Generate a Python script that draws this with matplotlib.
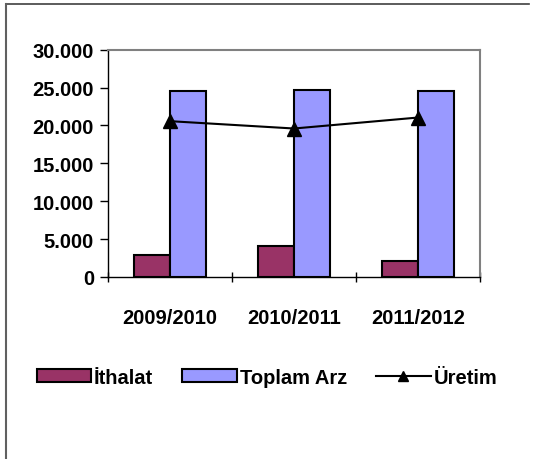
import numpy as np
import matplotlib
matplotlib.use("Agg")
import matplotlib.pyplot as plt
from matplotlib.lines import Line2D

plt.rcParams['font.family'] = ['Liberation Sans', 'DejaVu Sans']
plt.rcParams['font.weight'] = 'bold'

years = ["2009/2010", "2010/2011", "2011/2012"]
ithalat = [2900, 4120, 2060]
toplam_arz = [24560, 24650, 24600]
uretim = [20570, 19600, 21050]
yticks = [0, 5000, 10000, 15000, 20000, 25000, 30000]
ytick_labels = ["0", "5.000", "10.000", "15.000", "20.000", "25.000", "30.000"]

fs = 14.5

fig = plt.figure(figsize=(5.36, 4.6), dpi=100)
ax = fig.add_axes([0.2015, 0.3957, 0.694, 0.494])

x = np.arange(len(years))
w = 0.29
b1 = ax.bar(x - w/2, ithalat, w, color="#993366", edgecolor="black", linewidth=1.5, label="İthalat")
b2 = ax.bar(x + w/2, toplam_arz, w, color="#9999FF", edgecolor="black", linewidth=1.5, label="Toplam Arz")
l1, = ax.plot(x, uretim, color="black", lw=1.5, marker="^", markersize=10, label="Üretim")

ax.set_xlim(-0.5, 2.5)
ax.set_ylim(0, 30000)
ax.set_yticks(yticks)
ax.set_yticklabels(ytick_labels, fontsize=fs, fontweight="bold")
ax.set_xticks(x)
ax.set_xticklabels(years, fontsize=fs, fontweight="bold")
ax.tick_params(axis="x", length=0, pad=22)
ax.set_xticks([-0.5, 0.5, 1.5, 2.5], minor=True)
ax.tick_params(axis="x", which="minor", length=7, width=1, direction="inout")
ax.tick_params(axis="y", length=6, width=1, pad=4)

for s in ["top", "right"]:
    ax.spines[s].set_color("#808080")
    ax.spines[s].set_linewidth(1.5)
for s in ["left", "bottom"]:
    ax.spines[s].set_color("black")
    ax.spines[s].set_linewidth(1)

fig.legend([b1, b2, l1], ["İthalat", "Toplam Arz", "Üretim"],
           loc="center", bbox_to_anchor=(0.498, 0.178), ncol=3, frameon=False,
           prop={"size": fs, "weight": "bold"}, handlelength=2.7, handletextpad=0.15,
           columnspacing=1.45, handleheight=0.6, markerscale=0.75)

# outer frame (top and left edges only visible)
fig.add_artist(Line2D([6/536, 529/536], [1 - 5/460, 1 - 5/460], transform=fig.transFigure,
                      color="#404040", lw=1.2))
fig.add_artist(Line2D([6/536, 6/536], [0, 1 - 5/460], transform=fig.transFigure,
                      color="#606060", lw=1.5))

fig.savefig("out.png", dpi=100)
